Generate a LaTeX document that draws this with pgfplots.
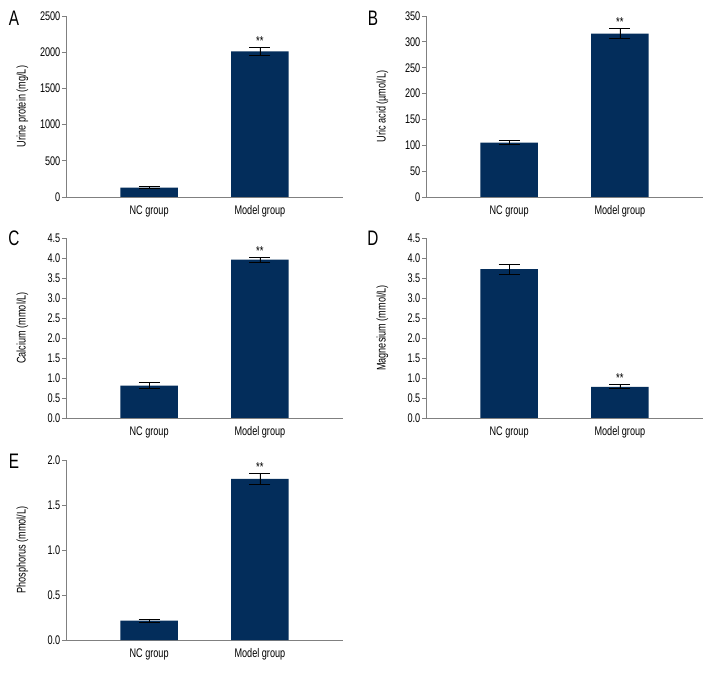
\documentclass[border=0pt]{standalone}
\usepackage{fontspec}
\setmainfont{Liberation Sans}[FakeStretch=0.73]
\usepackage{pgfplots}
\pgfplotsset{compat=1.18}
\definecolor{barc}{HTML}{032D5B}
\definecolor{axc}{HTML}{808080}
\pgfplotsset{panel/.style={
  scale only axis, width=277pt, height=181pt,
  axis x line=bottom, axis y line=left,
  axis line style={axc, line width=0.9pt, -},
  xmin=-0.75, xmax=1.75, ymin=0,
  ybar, bar width=0.52,
  xtick={0,1}, xticklabels={NC group, Model group},
  x tick style={draw=none},
  y tick style={axc, line width=0.9pt},
  tick align=outside, major tick length=4pt,
  /pgf/number format/assume math mode=true,
  /pgf/number format/1000 sep={},
  scaled y ticks=false,
  tick label style={font=\fontsize{12.5}{14}\selectfont},
  xticklabel style={yshift=-1pt},
  yticklabel style={inner sep=1.5pt},
  ylabel style={font=\fontsize{12.5}{14}\selectfont, at={(axis description cs:-0.157,0.5)}, anchor=center},
  clip=false,
},
ebars/.style={fill=barc, draw=none,
  error bars/.cd, y dir=both, y explicit,
  error bar style={black, line width=0.8pt},
  error mark=|,
  error mark options={black, line width=0.8pt, mark size=10.5pt}},
dec/.style={yticklabel style={/pgf/number format/.cd, fixed, fixed zerofill, precision=1}}
}
\newcommand{\stars}[1]{\node[anchor=base, font=\fontsize{13}{15}\selectfont, yshift=2pt] at (axis cs:#1) {**};}
\begin{document}
\begin{tikzpicture}
\path[use as bounding box] (0pt,0pt) rectangle (720pt,672pt);
\node[font=\fontsize{21}{24}\selectfont] at (14pt,654pt) {A};
\node[font=\fontsize{21}{24}\selectfont] at (373pt,654pt) {B};
\node[font=\fontsize{21}{24}\selectfont] at (14pt,434pt) {C};
\node[font=\fontsize{21}{24}\selectfont] at (373pt,434pt) {D};
\node[font=\fontsize{21}{24}\selectfont] at (14pt,211pt) {E};
% A
\begin{axis}[panel, at={(66pt,475pt)}, anchor=south west, ymax=2500, ytick={0,500,...,2500}, ylabel={Urine protein (mg/L)}]
\addplot[ebars] coordinates {(0,128) +- (0,14) (1,2010) +- (0,50)};
\stars{1,2060}
\end{axis}
% B
\begin{axis}[panel, at={(426pt,475pt)}, anchor=south west, ymax=350, ytick={0,50,...,350}, ylabel={Uric acid (\textmu mol/L)}]
\addplot[ebars] coordinates {(0,105) +- (0,4) (1,316) +- (0,10)};
\stars{1,326}
\end{axis}
% C
\begin{axis}[panel, dec, at={(66pt,254pt)}, anchor=south west, height=180pt, ymax=4.5, ytick={0,0.5,...,4.5}, ylabel={Calcium (mmol/L)}]
\addplot[ebars] coordinates {(0,0.81) +- (0,0.07) (1,3.96) +- (0,0.06)};
\stars{1,4.02}
\end{axis}
% D
\begin{axis}[panel, dec, at={(426pt,254pt)}, anchor=south west, height=180pt, ymax=4.5, ytick={0,0.5,...,4.5}, ylabel={Magnesium (mmol/L)}]
\addplot[ebars] coordinates {(0,3.72) +- (0,0.13) (1,0.78) +- (0,0.05)};
\stars{1,0.83}
\end{axis}
% E
\begin{axis}[panel, dec, at={(66pt,32pt)}, anchor=south west, height=180pt, ymax=2.0, ytick={0,0.5,...,2.0}, ylabel={Phosphorus (mmol/L)}]
\addplot[ebars] coordinates {(0,0.214) +- (0,0.02) (1,1.79) +- (0,0.06)};
\stars{1,1.85}
\end{axis}
\end{tikzpicture}
\end{document}
